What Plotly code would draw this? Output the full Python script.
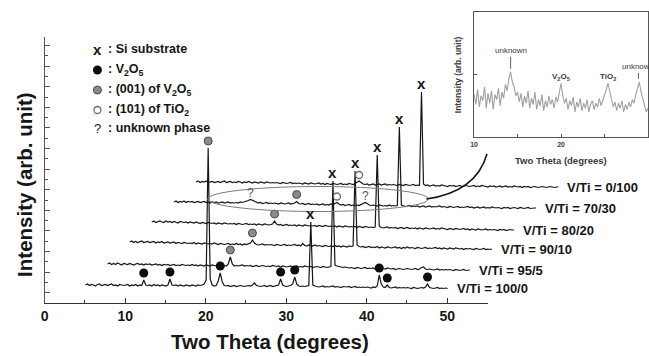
import plotly.graph_objects as go

W, H = 649, 356
FONT = "Liberation Sans, Arial, sans-serif"

# ---------------- data ----------------
# common 2-theta grid of every measured pattern (degrees)
two_theta = [round(5.05 + 0.25 * i, 2) for i in range(181)]

sample_labels = ["V/Ti = 100/0", "V/Ti = 95/5", "V/Ti = 90/10",
                 "V/Ti = 80/20", "V/Ti = 70/30", "V/Ti = 0/100"]

int_100_0 = [4, 5, 3.5, 4.5, 4, 3, 4.5, 5, 3.5, 4,
             4.5, 3.5, 4, 5, 3.5, 4, 3, 4.5, 4, 3.5,
             4, 4.5, 3, 4, 3.5, 4.5, 3, 4, 3.5, 9,
             4, 3.5, 4, 3, 4.5, 3.5, 4, 3, 4, 3.5,
             3, 4, 10, 4, 3.5, 4, 3, 4, 3.5, 3,
             4, 3.5, 3, 4, 3.5, 3, 4, 3.5, 4, 5,
             9, 141, 10, 4, 3, 3.5, 8, 16, 7, 3.5,
             3, 3.5, 2.5, 3, 3.5, 2.5, 3, 3.5, 3, 2.5,
             3, 3.5, 3, 4, 6, 3.5, 3, 2.5, 3, 3.5,
             2.5, 3, 3.5, 2.5, 3, 3, 4, 10, 4, 3,
             2.5, 3, 3.5, 5, 12, 5, 3, 2.5, 3, 2.5,
             3, 3.5, 67, 4, 3, 2.5, 2, 2.5, 3, 2,
             2.5, 2, 2.5, 3, 2, 2.5, 2, 1.5, 2.5, 2,
             2, 2.5, 1.5, 2, 2.5, 1.5, 2, 1.5, 2, 1.5,
             2, 1.5, 1, 2, 1.5, 3, 14, 5, 2, 1.5,
             4, 1.5, 1, 1.5, 2, 1, 1.5, 1, 1.5, 1,
             1.5, 1, 0.5, 1.5, 1, 0.5, 1, 1.5, 1, 2,
             5, 1.5, 1, 0.5, 1, 1.5, 0.5, 1, 0.5, 1, 0.5]

int_95_5 = [4, 5, 3.5, 4.5, 3.5, 5, 4, 3, 4.5, 4,
            3.5, 4.5, 4, 3, 4, 4.5, 3.5, 4, 3, 4,
            3.5, 4, 3, 3.5, 4, 3, 3.5, 2.5, 3.5, 3,
            3.5, 2.5, 3, 3.5, 2.5, 3, 2.5, 3.5, 3, 2.5,
            3, 2.5, 3.5, 2.5, 3, 2, 3, 2.5, 2, 3,
            2.5, 2, 3, 2.5, 2, 2.5, 3, 2, 2.5, 2,
            4, 11, 4, 2, 2.5, 2, 2.5, 3, 2, 2.5,
            2, 2.5, 1.5, 2, 2.5, 1.5, 2, 2.5, 2, 1.5,
            2, 1.5, 2.5, 2, 1.5, 2, 1, 2, 1.5, 1,
            1.5, 2, 1, 1.5, 2, 1, 1.5, 1, 2, 1.5,
            1, 1.5, 0.5, 1, 1.5, 1, 0.5, 1.5, 1, 0.5,
            1, 1.5, 87, 3, 2, 1.5, 1, 0.5, 1, 0.5,
            0, 0.5, 0, -0.5, 0.5, 0, -0.5, 0, 0.5, -0.5,
            0, -0.5, 0, -1, -0.5, 0, -1, -0.5, -1, 0,
            -0.5, -1, -0.5, -1.5, -1, -0.5, -1, -1.5, -1, -0.5,
            -1, -1.5, -1, -0.5, -1.5, -1, 0.5, 1, -1, -1.5,
            -1, -1.5, -2, -1.5, -1, -2, -1.5, -2, -1.5, -2,
            -1.5, -2, -2.5, -1.5, -2, -2.5, -2, -1.5, -2.5, -2, -2]

int_90_10 = [5, 6, 4.5, 5.5, 4.5, 5, 6, 4.5, 5, 5.5,
             4.5, 5, 5.5, 4, 5, 4.5, 5.5, 4, 4.5, 5,
             4, 4.5, 5, 3.5, 4.5, 4, 3.5, 4.5, 4, 3.5,
             4, 3.5, 4.5, 3, 4, 3.5, 3, 4, 3.5, 3,
             3.5, 3, 4, 3, 2.5, 3.5, 3, 2.5, 3, 3.5,
             2.5, 3, 2.5, 3.5, 2.5, 3, 2, 3, 2.5, 3,
             4, 7, 4, 2.5, 2, 2.5, 3, 2, 2.5, 2,
             2.5, 2, 1.5, 2.5, 2, 1.5, 2, 2.5, 1.5, 2,
             1.5, 2, 2.5, 1.5, 2, 1, 3.5, 1.5, 1, 2,
             1.5, 1, 2, 1, 1.5, 1, 0.5, 1.5, 1, 0.5,
             1, 0.5, 1.5, 0.5, 1, 0, 1, 0.5, 0, 1,
             0.5, 1, 76, 2, 0.5, 0, 0.5, -0.5, 0, 0.5,
             -0.5, 0, -0.5, 0.5, -1, 0, -0.5, -1, 0, -0.5,
             -1, -0.5, 0, -1, -0.5, -1.5, -0.5, -1, 0, -1,
             -0.5, -1, -1.5, -0.5, -1, -1.5, -1, -0.5, -1.5, -1,
             -1.5, -1, -0.5, -1.5, -1, -2, -1, -1.5, -2, -1,
             -1.5, -2, -1, -1.5, -2, -1.5, -2.5, -1.5, -2, -1.5,
             -2, -2.5, -1.5, -2, -2.5, -2, -1.5, -2.5, -2, -2.5, -2]

int_80_20 = [4, 5, 3.5, 4.5, 5, 4, 3.5, 5, 4, 4.5,
             3.5, 4.5, 4, 3, 4.5, 4, 3.5, 4, 3, 4,
             3.5, 3, 4, 3.5, 2.5, 3.5, 3, 2.5, 3.5, 3,
             2.5, 3, 2, 3, 2.5, 2, 3, 2.5, 2, 2.5,
             2, 2.5, 1.5, 2.5, 2, 1.5, 2, 2.5, 1.5, 2,
             1.5, 2, 1, 2, 1.5, 1, 2, 1.5, 1, 1.5,
             2, 5, 2, 1, 1.5, 0.5, 1, 1.5, 0.5, 1,
             0.5, 1, 0, 1, 0.5, 0, 1, 0.5, 0, 0.5,
             0, 0.5, -0.5, 0.5, 0, -0.5, 0.5, 0, -0.5, 0,
             -0.5, 0, -1, 0, -0.5, -1, 0, -0.5, -1, -0.5,
             -1, -0.5, -1.5, -0.5, -1, -1.5, -0.5, -1, -1.5, -1,
             -1.5, -1, 71, 0, -1.5, -2, -1.5, -1, -2, -1.5,
             -2, -1.5, -2.5, -2, -1.5, -2.5, -2, -1.5, -2.5, -2,
             -2.5, -2, -3, -2, -2.5, -3, -2, -2.5, -3, -2.5,
             -2, -3, -2.5, -3, -2, -2.5, -3, -3.5, -2.5, -3,
             -3.5, -2.5, -3, -3.5, -3, -2.5, -3.5, -3, -4, -3,
             -3.5, -4, -3, -3.5, -4, -3.5, -3, -4, -3.5, -4,
             -3.5, -4, -4.5, -3.5, -4, -3.5, -4.5, -4, -3.5, -4, -4]

int_70_30 = [3, 4, 2.5, 3.5, 3, 4, 2.5, 3.5, 3, 3.5,
             2.5, 3, 3.5, 2.5, 3, 3.5, 2.5, 3, 2, 3,
             2.5, 3, 2, 2.5, 3, 2, 2.5, 3, 2, 2.5,
             2, 2.5, 2, 3, 2.5, 3, 3.5, 4.5, 5.5, 4.5,
             3.5, 2.5, 2, 2.5, 1.5, 2, 2.5, 1.5, 2, 1.5,
             2, 1.5, 1, 2, 1.5, 1, 1.5, 2, 1, 1.5,
             2, 3.5, 1.5, 1, 1.5, 0.5, 1, 1.5, 0.5, 1,
             0.5, 1, 0, 0.5, 1, 0, 0.5, 0, 1, 0.5,
             1.5, 2.5, 1, 0, 0.5, -0.5, 0, 0.5, -0.5, 0,
             -0.5, 0, -0.5, 0.5, 1.5, 2.5, 1.5, 0, -0.5, 0,
             -0.5, -1, 0, -0.5, -1, -0.5, -1, 0, -1, -0.5,
             -1, -0.5, 78, 0, -1, -1.5, -1, -0.5, -1.5, -1,
             -1.5, -1, -2, -1.5, -1, -2, -1.5, -1, -2, -1.5,
             -2, -1.5, -1, -2, -1.5, -2, -2.5, -1.5, -2, -2.5,
             -2, -1.5, -2.5, -2, -2.5, -2, -1.5, -2.5, -2, -3,
             -2.5, -2, -3, -2.5, -2, -3, -2.5, -3, -2, -2.5,
             -3, -2.5, -3, -3.5, -2.5, -3, -2.5, -3.5, -3, -2.5,
             -3, -3.5, -2.5, -3, -3.5, -3, -2.5, -3.5, -3, -3, -3]

int_0_100 = [2, 3, 1.5, 2.5, 2, 3, 1.5, 2, 2.5, 1.5,
             2, 2.5, 1.5, 2, 3, 1.5, 2, 2.5, 1.5, 2,
             1.5, 2.5, 2, 1, 2, 1.5, 2.5, 1.5, 1, 2,
             1.5, 1, 2, 1.5, 1, 2, 1.5, 1, 1.5, 1,
             1.5, 1, 0.5, 1.5, 1, 0.5, 1, 1.5, 0.5, 1,
             0.5, 1, 0.5, 0, 1, 0.5, 0, 1, 0.5, 0,
             0.5, 1, 0, 0.5, -0.5, 0.5, 0, -0.5, 0.5, 0,
             -0.5, 0, 0.5, -0.5, 0, -0.5, 0.5, 0, -0.5, 0.5,
             1.5, 3, 1.5, 0, -0.5, 0, -1, -0.5, 0, -1,
             -0.5, 0, -1, -0.5, 0, -1, -0.5, -1, -0.5, -1,
             -1.5, -0.5, -1, -1.5, -0.5, -1, -1.5, -1, -0.5, -1.5,
             -1, -1.5, 92, 0, -1.5, -1, -2, -1.5, -1, -2,
             -1.5, -2, -1, -1.5, -2, -2.5, -1.5, -2, -1.5, -2.5,
             -2, -1.5, -2.5, -2, -1.5, -2, -2.5, -2, -1.5, -2.5,
             -2, -2.5, -1.5, -2, -2.5, -3, -2, -2.5, -2, -3,
             -2.5, -2, -3, -2.5, -2, -3, -2.5, -3, -2, -2.5,
             -3, -2.5, -3.5, -2.5, -3, -2.5, -3.5, -3, -2.5, -3,
             -3.5, -3, -2.5, -3, -3.5, -3, -2.5, -3, -3.5, -3, -3]

intensities = [int_100_0, int_95_5, int_90_10, int_80_20, int_70_30, int_0_100]

# phase identification (2-theta of the raw pattern, index of pattern)
si_peak = 33.05
v2o5_peaks = [12.3, 15.55, 21.8, 29.3, 31.05, 41.55, 42.55, 47.55]   # on 100/0
v2o5_001 = 20.3                                                       # on 100/0 ... 70/30
v2o5_001_samples = [0, 1, 2, 3, 4]
tio2_101 = 25.3
tio2_samples = [4, 5]
unknown_peaks = [14.55, 28.8]                                         # on 70/30

# inset: V/Ti = 70/30, 10-30 degrees
inset_two_theta = [round(10 + 0.2 * i, 1) for i in range(101)]
inset_intensity = [0.34, 0.26, 0.38, 0.24, 0.33, 0.29, 0.40, 0.23, 0.35, 0.27, 0.37, 0.22, 0.34, 0.30, 0.39, 0.25,
                   0.36, 0.31, 0.42, 0.37, 0.47, 0.52, 0.44, 0.40, 0.33, 0.36,
                   0.28, 0.35, 0.24, 0.33, 0.27, 0.37, 0.23, 0.31, 0.26, 0.36, 0.22, 0.30, 0.25, 0.34, 0.21,
                   0.29, 0.24, 0.33, 0.26, 0.30, 0.23, 0.32, 0.28, 0.36, 0.43,
                   0.33, 0.27, 0.31, 0.22, 0.29, 0.25, 0.32, 0.20, 0.28, 0.24, 0.31, 0.21, 0.27, 0.23, 0.30,
                   0.20, 0.26, 0.29, 0.22, 0.27, 0.24, 0.31, 0.25, 0.29, 0.33, 0.38, 0.43,
                   0.36, 0.30, 0.24, 0.28, 0.21, 0.27, 0.23, 0.29, 0.20, 0.26, 0.22, 0.28, 0.24, 0.30, 0.27,
                   0.34, 0.39,
                   0.44, 0.36, 0.30, 0.25, 0.20, 0.23]
inset_labels = [("unknown", 14.2), ("V<sub>2</sub>O<sub>5</sub>", 20.0),
                ("TiO<sub>2</sub>", 25.4), ("unknown", 28.9)]

# ---------------- layout geometry ----------------
X0_PX, PX_PER_DEG, Y0_PX, YTOP_PX = 41, 8.1, 303, 37
X_SHIFT, Y_BASE, Y_STEP = 2.75, 14, 21


def px_x(px):
    return (px - X0_PX) / PX_PER_DEG


def px_y(py):
    return Y0_PX - py


def shifted(i):
    xs = [t + X_SHIFT * i for t in two_theta]
    ys = [v + Y_BASE + Y_STEP * i for v in intensities[i]]
    return xs, ys


def peak_top(i, tt):
    xs, ys = shifted(i)
    best = None
    for t, x, y in zip(two_theta, xs, ys):
        if abs(t - tt) <= 0.3:
            if best is None or y > best[1]:
                best = (x, y)
    return best


fig = go.Figure()
INK = "#161616"

for i in range(len(intensities)):
    xs, ys = shifted(i)
    fig.add_trace(go.Scatter(x=xs, y=ys, mode="lines", line=dict(color=INK, width=1.2),
                             hoverinfo="skip", showlegend=False))

annotations = []


def note(**kw):
    kw.setdefault("showarrow", False)
    kw.setdefault("xanchor", "center")
    kw.setdefault("yanchor", "middle")
    annotations.append(kw)


# pattern labels
for i, lab in enumerate(sample_labels):
    xs, ys = shifted(i)
    note(x=xs[-1] + 0.85, y=ys[-1], xref="x", yref="y", text=lab, xanchor="left",
         font=dict(family=FONT, size=13, color=INK, weight="bold"))

# markers
bx, by = [], []
for t in v2o5_peaks:
    x, y = peak_top(0, t)
    bx.append(x); by.append(y + 7)
gx, gy = [], []
for i in v2o5_001_samples:
    x, y = peak_top(i, v2o5_001)
    gx.append(x); gy.append(y + 7)
ox, oy = [], []
for i in tio2_samples:
    x, y = peak_top(i, tio2_101)
    ox.append(x); oy.append(y + 6)

# legend symbols (pixel positions of the key)
leg_rows = [49, 70, 90, 110, 128]
leg_px = 94
bx.append(px_x(leg_px)); by.append(px_y(leg_rows[1]))
gx.append(px_x(leg_px)); gy.append(px_y(leg_rows[2]))
ox.append(px_x(leg_px)); oy.append(px_y(leg_rows[3]))

fig.add_trace(go.Scatter(x=bx, y=by, mode="markers", hoverinfo="skip", showlegend=False,
                         marker=dict(symbol="circle", size=9, color="#0d0d0d")))
fig.add_trace(go.Scatter(x=gx, y=gy, mode="markers", hoverinfo="skip", showlegend=False,
                         marker=dict(symbol="circle", size=8, color="#8a8a8a",
                                     line=dict(color="#4a4a4a", width=1))))
fig.add_trace(go.Scatter(x=ox, y=oy, mode="markers", hoverinfo="skip", showlegend=False,
                         marker=dict(symbol="circle", size=7, color="white",
                                     line=dict(color="#6a6a6a", width=1.3))))

for i in range(len(intensities)):
    x, y = peak_top(i, si_peak)
    note(x=x, y=y + 9, xref="x", yref="y", text="x",
         font=dict(family=FONT, size=15, color=INK, weight="bold"))
for t in unknown_peaks:
    x, y = peak_top(4, t)
    note(x=x, y=y + 7, xref="x", yref="y", text="?",
         font=dict(family=FONT, size=12, color="#555555"))

# key text
note(x=px_x(leg_px), y=px_y(leg_rows[0]), xref="x", yref="y", text="x",
     font=dict(family=FONT, size=15, color=INK, weight="bold"))
note(x=px_x(leg_px), y=px_y(leg_rows[4]), xref="x", yref="y", text="?",
     font=dict(family=FONT, size=13, color=INK))
key_texts = [": Si substrate", ": V<sub>2</sub>O<sub>5</sub>", ": (001) of V<sub>2</sub>O<sub>5</sub>",
             ": (101) of TiO<sub>2</sub>", ": unknown phase"]
for row, txt in zip(leg_rows, key_texts):
    note(x=px_x(103), y=px_y(row), xref="x", yref="y", text=txt, xanchor="left",
         font=dict(family=FONT, size=12.5, color=INK, weight="bold"))

# axis titles
note(x=268 / W, y=1 - 341 / H, xref="paper", yref="paper", text="Two Theta (degrees)",
     font=dict(family=FONT, size=20.5, color=INK, weight="bold"))
note(x=20 / W, y=1 - 184 / H, xref="paper", yref="paper", text="Intensity (arb. unit)",
     textangle=-90, font=dict(family=FONT, size=20.5, color=INK, weight="bold"))

# inset texts
INS = "#3a3a3a"
for txt, t in inset_labels:
    top = max(v for tt, v in zip(inset_two_theta, inset_intensity) if abs(tt - t) <= 0.3)
    if txt == "unknown":
        lift = 18 if t < 20 else 12
        note(x=t, y=top + 0.025, xref="x3", yref="y3", text=txt,
             showarrow=True, arrowhead=0, arrowwidth=0.8, arrowcolor=INS,
             ax=0, ay=-lift, font=dict(family=FONT, size=8, color=INS))
    else:
        note(x=t, y=top + 0.05, xref="x3", yref="y3", text=txt,
             font=dict(family=FONT, size=8, color=INS, weight="bold"))
note(x=560 / W, y=1 - 160 / H, xref="paper", yref="paper", text="Two Theta (degrees)",
     font=dict(family=FONT, size=9.5, color=INS, weight="bold"))
note(x=457 / W, y=1 - 75 / H, xref="paper", yref="paper", text="Intensity (arb. unit)",
     textangle=-90, font=dict(family=FONT, size=8.5, color=INS, weight="bold"))

# arrow head of the curved pointer
note(x=px_x(487), y=px_y(152), xref="x", yref="y", text=" ",
     showarrow=True, arrowhead=2, arrowsize=1.1, arrowwidth=1.6,
     arrowcolor=INK, ax=-3, ay=11, standoff=0)

# inset trace
fig.add_trace(go.Scatter(x=inset_two_theta, y=inset_intensity, xaxis="x3", yaxis="y3",
                         mode="lines", line=dict(color="#a0a0a0", width=1.1),
                         hoverinfo="skip", showlegend=False))
# dummy trace for the visible main axes
fig.add_trace(go.Scatter(x=[None], y=[None], xaxis="x2", yaxis="y2", showlegend=False))

shapes = [
    dict(type="circle", xref="x", yref="y", x0=px_x(205), x1=px_x(427),
         y0=px_y(211.5), y1=px_y(186.5), line=dict(color="#7a7a7a", width=1)),
    dict(type="path", xref="x", yref="y",
         path="M {:.3f},{:.3f} Q {:.3f},{:.3f} {:.3f},{:.3f}".format(
             px_x(425), px_y(199), px_x(475), px_y(192), px_x(486), px_y(154)),
         line=dict(color=INK, width=1.6)),
]

fig.update_layout(
    width=W, height=H, margin=dict(l=0, r=0, t=0, b=0),
    paper_bgcolor="white", plot_bgcolor="rgba(0,0,0,0)",
    showlegend=False, annotations=annotations, shapes=shapes,
    xaxis=dict(domain=[0, 1], range=[px_x(0), px_x(W)], visible=False),
    yaxis=dict(domain=[0, 1], range=[px_y(H), px_y(0)], visible=False),
    xaxis2=dict(domain=[X0_PX / W, (X0_PX + 55 * PX_PER_DEG) / W], range=[0, 55], anchor="y2",
                showgrid=False, zeroline=False, showline=True, linecolor="#333", linewidth=1.2,
                ticks="inside", ticklen=5, tickwidth=1, tickcolor="#333",
                tickvals=[0, 10, 20, 30, 40, 50], ticktext=["0", "10", "20", "30", "40", "50"],
                minor=dict(tickvals=[5, 15, 25, 35, 45, 55], ticks="inside", ticklen=3,
                           tickcolor="#333", showgrid=False),
                ticklabelstandoff=0,
                tickfont=dict(family=FONT, size=14, color=INK, weight="bold")),
    yaxis2=dict(domain=[(H - Y0_PX) / H, (H - YTOP_PX) / H], range=[0, Y0_PX - YTOP_PX],
                anchor="x2", showgrid=False, zeroline=False, showline=True, linecolor="#555",
                linewidth=1.2, ticks="inside", ticklen=5, tickcolor="#555",
                tick0=10.3, dtick=20.6, showticklabels=False,
                minor=dict(tick0=0, dtick=10.3, ticks="inside", ticklen=3, tickcolor="#555",
                           showgrid=False)),
    xaxis3=dict(domain=[473 / W, 648 / W], range=[10, 30], anchor="y3",
                showgrid=False, zeroline=False, showline=True, mirror=True,
                linecolor="#555", linewidth=1, ticks="inside", ticklen=3, tickcolor="#555",
                tickvals=[10, 20, 30],
                minor=dict(tickvals=[15, 25], ticks="inside", ticklen=3, tickcolor="#555",
                           showgrid=False),
                ticklabelstandoff=1,
                tickfont=dict(family=FONT, size=7, color=INS, weight="bold")),
    yaxis3=dict(domain=[(H - 137) / H, (H - 12) / H], range=[0, 1], anchor="x3",
                showgrid=False, zeroline=False, showline=True, mirror=True,
                linecolor="#555", linewidth=1, ticks="inside", ticklen=3, tickcolor="#555",
                tickvals=[0.5], showticklabels=False),
)

fig.write_html("out.html", config={"displayModeBar": False},
               post_script="document.body.style.margin='0';document.body.style.padding='0';")
